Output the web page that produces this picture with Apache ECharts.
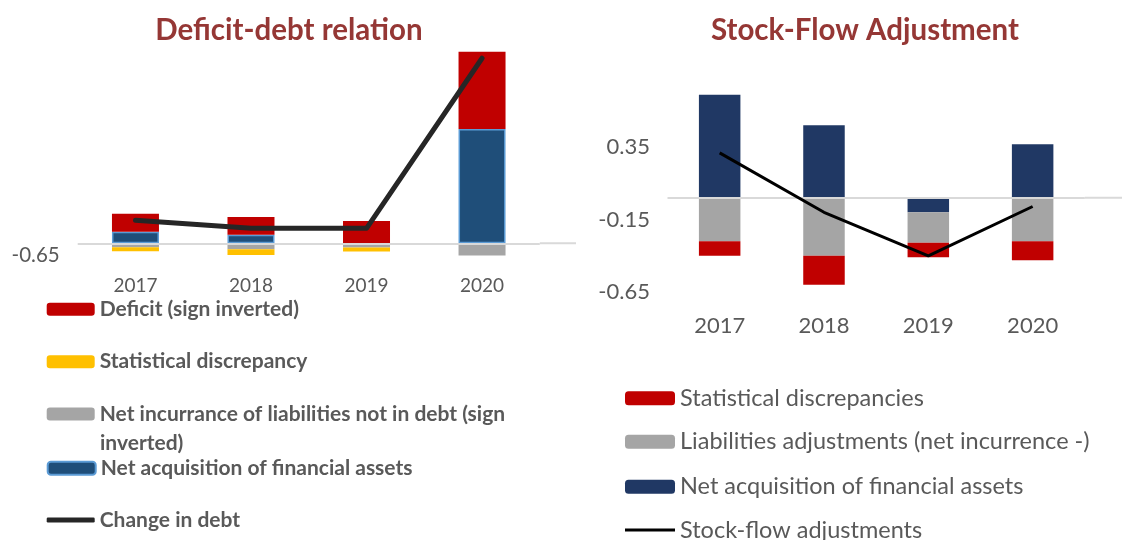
<!DOCTYPE html>
<html>
<head>
<meta charset="utf-8">
<script src="https://cdn.jsdelivr.net/npm/echarts@6/dist/echarts.min.js"></script>
<style>
  html, body { margin: 0; padding: 0; background: #fff; }
  #main { width: 1122px; height: 540px; }
</style>
</head>
<body>
<div id="main"></div>
<script>
var years = ['2017', '2018', '2019', '2020'];

// left panel - deficit-debt relation
var deficit = [0.96, 0.94, 1.19, 4.45];
var statDiscrepancy = [-0.21, -0.30, -0.21, 0];
var liabNotInDebt = [-0.21, -0.32, -0.23, -0.68];
var finAssetsLeft = [0.62, 0.46, 0, 6.09];
var changeInDebt = [1.23, 0.80, 0.80, 9.86];
var leftTicks = [-0.65];

// right panel - stock-flow adjustment
var statDiscrepancies = [-0.10, -0.20, -0.10, -0.13];
var liabAdjust = [-0.30, -0.40, -0.21, -0.30];
var finAssetsRight = [0.71, 0.50, -0.10, 0.37];
var stockFlow = [0.31, -0.10, -0.40, -0.06];
var rightTicks = [-0.65, -0.15, 0.35];

var FONT = 'Lato';
var GREY_TXT = '#595959';
var ZERO = '#D9D9D9';

var NAME_LIAB = 'Net incurrance of liabilities not in debt (sign inverted)';
var NAME_FA_R = 'SFA: Net acquisition of financial assets';

var myChart = echarts.init(document.getElementById('main'));

function leg(name, x, cy, o, extra) {
  o = Object.assign({}, o, extra || {});
  var lh = o.lineHeight;
  var l = {
    left: x, top: cy - lh / 2, padding: 0, orient: 'vertical',
    itemWidth: o.w, itemHeight: o.h, itemTextGap: o.gap, itemGap: 0,
    selectedMode: false,
    data: [name],
    formatter: o.formatter || function (n) { return n.replace('SFA: ', ''); },
    textStyle: { fontFamily: FONT, fontSize: o.size, fontWeight: o.weight, color: GREY_TXT, lineHeight: lh }
  };
  if (o.icon) l.icon = o.icon;
  return l;
}

var leftLeg = { w: 48, h: 13, gap: 5, size: 21, weight: 'bold', lineHeight: 24 };
var rightLeg = { w: 50, h: 14, gap: 6.5, size: 23.5, weight: 'normal', lineHeight: 26 };

var option = {
  animation: false,
  title: [
    { text: 'Deficit-debt relation', left: 289, top: 15, textAlign: 'center', padding: 0,
      textStyle: { fontFamily: FONT, fontWeight: 'bold', fontSize: 29.5, color: '#953735' } },
    { text: 'Stock-Flow Adjustment', left: 865, top: 15, textAlign: 'center', padding: 0,
      textStyle: { fontFamily: FONT, fontWeight: 'bold', fontSize: 29.5, color: '#953735' } }
  ],
  legend: [
    leg('Deficit (sign inverted)', 46.7, 309.3, leftLeg),
    leg('Statistical discrepancy', 46.7, 361.7, leftLeg),
    leg(NAME_LIAB, 46.7, 414, leftLeg, {
      formatter: function (n) { return n.replace(' inverted)', ''); }
    }),
    leg('Net acquisition of financial assets', 46.7, 468.3, leftLeg),
    leg('Change in debt', 46.7, 520, leftLeg, { icon: 'roundRect', h: 5 }),
    leg('Statistical discrepancies', 625, 398.3, rightLeg),
    leg('Liabilities adjustments (net incurrence -)', 625, 441.7, rightLeg),
    leg(NAME_FA_R, 625, 486.7, rightLeg),
    leg('Stock-flow adjustments', 625, 530, rightLeg, { icon: 'rect', h: 3 })
  ],
  grid: [
    { left: 77.7, top: 51.85, width: 462.1, height: 203.65 },
    { left: 667.5, top: 74.55, width: 417.3, height: 217.5 }
  ],
  xAxis: [
    { type: 'category', gridIndex: 0, data: years,
      axisLine: { show: false }, axisTick: { show: false },
      axisLabel: { fontFamily: FONT, fontSize: 19, color: GREY_TXT, margin: 21 } },
    { type: 'category', gridIndex: 1, data: years,
      axisLine: { show: false }, axisTick: { show: false },
      axisLabel: { fontFamily: FONT, fontSize: 22, color: GREY_TXT, margin: 23 } }
  ],
  yAxis: [
    { type: 'value', gridIndex: 0, min: -0.65, max: 10.2,
      splitLine: { show: false }, axisLine: { show: false }, axisTick: { show: false },
      axisLabel: { customValues: leftTicks, fontFamily: FONT, fontSize: 20.5, color: GREY_TXT, margin: 18 } },
    { type: 'value', gridIndex: 1, min: -0.65, max: 0.85,
      splitLine: { show: false }, axisLine: { show: false }, axisTick: { show: false },
      axisLabel: { customValues: rightTicks, fontFamily: FONT, fontSize: 22, color: GREY_TXT, margin: 17.5 } }
  ],
  series: [
    { name: 'Net acquisition of financial assets', type: 'bar', stack: 'L', barWidth: 47,
      xAxisIndex: 0, yAxisIndex: 0, data: finAssetsLeft,
      itemStyle: { color: '#1F4E79', borderColor: '#5B9BD5', borderWidth: 1.5 },
      markLine: { silent: true, symbol: 'none', label: { show: false },
        lineStyle: { color: ZERO, width: 2, type: 'solid' }, data: [{ yAxis: 0 }] } },
    { name: 'Deficit (sign inverted)', type: 'bar', stack: 'L', barWidth: 47,
      xAxisIndex: 0, yAxisIndex: 0, data: deficit, itemStyle: { color: '#C00000' } },
    { name: NAME_LIAB, type: 'bar', stack: 'L', barWidth: 47,
      xAxisIndex: 0, yAxisIndex: 0, data: liabNotInDebt, itemStyle: { color: '#A5A5A5' } },
    { name: 'Statistical discrepancy', type: 'bar', stack: 'L', barWidth: 47,
      xAxisIndex: 0, yAxisIndex: 0, data: statDiscrepancy, itemStyle: { color: '#FFC000' } },
    { name: 'Change in debt', type: 'line', xAxisIndex: 0, yAxisIndex: 0, data: changeInDebt,
      symbol: 'none', z: 5, itemStyle: { color: '#262626' },
      lineStyle: { color: '#262626', width: 5, cap: 'round', join: 'round' } },

    { name: NAME_FA_R, type: 'bar', stack: 'R', barWidth: 41.5,
      xAxisIndex: 1, yAxisIndex: 1, data: finAssetsRight, itemStyle: { color: '#203864' },
      markLine: { silent: true, symbol: 'none', label: { show: false },
        lineStyle: { color: ZERO, width: 2, type: 'solid' }, data: [{ yAxis: 0 }] } },
    { name: 'Liabilities adjustments (net incurrence -)', type: 'bar', stack: 'R', barWidth: 41.5,
      xAxisIndex: 1, yAxisIndex: 1, data: liabAdjust, itemStyle: { color: '#A5A5A5' } },
    { name: 'Statistical discrepancies', type: 'bar', stack: 'R', barWidth: 41.5,
      xAxisIndex: 1, yAxisIndex: 1, data: statDiscrepancies, itemStyle: { color: '#C00000' } },
    { name: 'Stock-flow adjustments', type: 'line', xAxisIndex: 1, yAxisIndex: 1, data: stockFlow,
      symbol: 'none', z: 5, itemStyle: { color: '#000000' },
      lineStyle: { color: '#000000', width: 3 } }
  ]
};

myChart.setOption(option);

// zero lines run a bit past the plot on the right, like the original
var y0L = myChart.convertToPixel({ yAxisIndex: 0 }, 0);
var y0R = myChart.convertToPixel({ yAxisIndex: 1 }, 0);
myChart.setOption({
  graphic: [
    { type: 'line', shape: { x1: 539.8, y1: y0L, x2: 576, y2: y0L }, style: { stroke: ZERO, lineWidth: 2 }, silent: true },
    { type: 'line', shape: { x1: 1084.8, y1: y0R, x2: 1122, y2: y0R }, style: { stroke: ZERO, lineWidth: 2 }, silent: true },
    { type: 'text', left: 100, top: 443.3 - 12,
      style: { text: 'inverted)', font: 'bold 21px Lato', fill: GREY_TXT, lineHeight: 24 } }
  ]
});
</script>
</body>
</html>
